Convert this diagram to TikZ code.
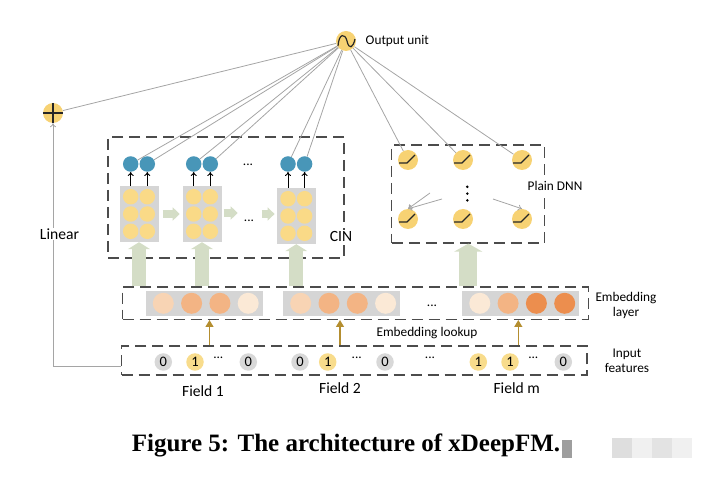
\documentclass[tikz,border=0pt]{standalone}
\usepackage{fontspec}
\setmainfont{Liberation Serif}
\setsansfont{Carlito}
\usetikzlibrary{positioning, arrows.meta}

\definecolor{unityellow}{RGB}{247,210,115}
\definecolor{cellyellow}{RGB}{250,218,135}
\definecolor{cinblue}{RGB}{72,150,184}
\definecolor{matgray}{RGB}{213,213,213}
\definecolor{flowgreen}{RGB}{212,221,198}
\definecolor{linkgray}{RGB}{165,165,165}
\definecolor{lookupbrown}{RGB}{180,142,48}
\definecolor{bitgray}{RGB}{216,216,216}
\definecolor{bityellow}{RGB}{248,220,140}
\definecolor{embA}{RGB}{248,212,180}
\definecolor{embB}{RGB}{243,180,132}
\definecolor{embC}{RGB}{251,233,214}
\definecolor{embD}{RGB}{236,142,78}

\begin{document}
\begin{tikzpicture}[
  x=1pt, y=-1pt,
  font=\sffamily\fontsize{13.3}{15}\selectfont,
  >={To[length=4pt,width=6pt]},
  unit/.style={circle, fill=unityellow, minimum size=20pt, inner sep=0pt},
  cell/.style={circle, fill=cellyellow, minimum size=15.5pt, inner sep=0pt},
  feat/.style={circle, fill=cinblue, minimum size=15.5pt, inner sep=0pt},
  matbox/.style={fill=matgray, minimum width=39pt, minimum height=56pt, inner sep=0pt},
  embbox/.style={fill=matgray, minimum width=117pt, minimum height=25.5pt, inner sep=0pt},
  emb/.style={circle, fill=#1, minimum size=21pt, inner sep=0pt},
  bit/.style={circle, fill=#1, minimum size=17.5pt, inner sep=0pt, font=\sffamily\fontsize{14.5}{16}\selectfont},
  dashbox/.style={draw=black!70, line width=1.3pt, dash pattern=on 11pt off 6pt, inner sep=0pt},
  link/.style={draw=linkgray, line width=0.8pt},
  relu/.style={draw=black!85, line width=1.2pt},
  flow/.style={draw=flowgreen, line width=#1},
  lookup/.style={draw=lookupbrown, line width=1.4pt, -{Triangle[length=7pt,width=8pt]}},
  big/.style={font=\sffamily\fontsize{15.6}{18}\selectfont},
]
\useasboundingbox (0,0) rectangle (705,478);

\node[name=out, unit] at (346,41) {};
\draw[relu] (338,46) .. controls (339,33) and (345,33) .. (347,41)
  .. controls (349,50) and (353,48) .. (355,39);
\node[name=outlbl, right=6pt of out] {Output unit};

\node[name=plus, unit] at (53,113) {};
\draw[relu] (plus.north) -- (plus.south);
\draw[relu] (plus.west) -- (plus.east);
\draw[link] (out) -- (plus);

\node[name=cin, dashbox, minimum width=236pt, minimum height=121pt] at (226,197.5) {};
\node[name=cinlbl, big, fill=white, inner sep=1pt] at (341,236) {CIN};
\foreach \i/\x/\y in {1/139/214, 2/202/214, 3/296.3/216} {
  \node[name=m\i, matbox] at (\x,\y) {};
  \foreach \c/\dx in {1/-8.3, 2/8.3} {
    \foreach \r/\dy in {1/-17.3, 2/0, 3/17.3}
      \node[name=m\i-\r-\c, cell] at (\x+\dx,\y+\dy) {};
    \node[name=f\i-\c, feat] at (\x+\dx,164) {};
    \draw[->, line width=0.9pt] (f\i-\c |- m\i.north) -- (f\i-\c.south);
    \draw[link] (out) -- (f\i-\c);
  }
}
\node[name=cdotstop] at (248,165) {...};
\node[name=cdotsmid] at (249,221) {...};
\draw[flow=8pt, -{Triangle[length=7pt,width=13pt]}] (m1.east) ++(4,0) -- ++(17,0);
\draw[flow=8pt, -{Triangle[length=7pt,width=13pt]}] (m2.east) ++(2,-1) -- ++(14,0);
\draw[flow=8pt, -{Triangle[length=7pt,width=13pt]}] (m3.west) ++(-15,-2) -- ++(13,0);

\node[name=dnn, dashbox, minimum width=153pt, minimum height=98pt] at (468.3,194) {};
\node[name=dnnlbl, fill=white, inner sep=1pt] at (555,186) {Plain DNN};
\foreach \i/\x/\y in {1/408/160, 2/463/160, 3/522/160, 4/408/219, 5/463/219, 6/522/219} {
  \node[name=d\i, unit] at (\x,\y) {};
  \draw[relu] (\x-9,\y+3) -- ++(8,0) -- ++(8,-8);
}
\foreach \i in {1,2,3}
  \draw[link] (out) -- (d\i);
\foreach \k in {1,2,3}
  \fill (467.3,180+6.8*\k) circle (1.4pt);
\coordinate (s1) at (430,193);
\coordinate (s2) at (442,199);
\coordinate (s3) at (493,199);
\draw[link, ->] (s1) -- (d4.north);
\draw[link, ->] (s2) -- (d4.north);
\draw[link, ->] (s3) -- (d6.north);

\node[name=emb, dashbox, minimum width=465.6pt, minimum height=32.3pt] at (355.5,303.2) {};
\foreach \g/\x/\ca/\cb/\cc/\cd in {1/204.3/embA/embB/embB/embC, 2/341.7/embA/embB/embB/embC, 3/520.8/embC/embB/embD/embD} {
  \node[name=eg\g, embbox] at (\x,303.3) {};
  \foreach \k/\col in {1/\ca, 2/\cb, 3/\cc, 4/\cd}
    \node[name=e\g-\k, emb=\col] at (\x-41+28.3*\k-28.3,303.3) {};
}
\node[name=embdots] at (432,306) {...};
\node[name=emblbl, align=center] at (626,305.5) {Embedding\\layer};
\foreach \i in {1,2,3}
  \draw[flow=14pt, -{Triangle[length=7pt,width=22pt]}] (m\i |- emb.north) -- (m\i.south);
\draw[flow=18pt, -{Triangle[length=8pt,width=28pt]}] (dnn.south |- emb.north) -- (dnn.south);

\node[name=inp, dashbox, minimum width=465.3pt, minimum height=29pt] at (354.3,360.5) {};
\foreach \n/\x/\v/\col in {a1/163.3/0/bitgray, a2/195/1/bityellow, a3/248.3/0/bitgray,
  b1/300/0/bitgray, b2/327.7/1/bityellow, b3/385/0/bitgray,
  c1/478.3/1/bityellow, c2/510/1/bityellow, c3/563.3/0/bitgray}
  \node[name=\n, bit=\col] at (\x,362) {\v};
\foreach \n/\x in {adots/218.3, bdots/356.7, mdots/430, cdots/533.3}
  \node[name=\n] at (\x,358) {...};
\node[name=inplbl, align=center] at (627,361) {Input\\features};
\node[name=lookuplbl] at (427,333) {Embedding lookup};
\foreach \g/\x in {1/209.5, 2/340, 3/518.3} {
  \coordinate (lk\g) at (\x,0);
  \draw[lookup] (inp.north -| lk\g) -- (emb.south -| lk\g);
}
\node[name=field1, big] at (203,391) {Field 1};
\node[name=field2, big] at (340,388) {Field 2};
\node[name=fieldm, big] at (516.7,388) {Field m};

\draw[link, ->] ([yshift=-6pt]inp.west) -| (plus.south);
\node[name=linear, big, fill=white, inner sep=1pt] at (59.5,234) {Linear};

\node[name=caption, inner sep=0pt, font=\rmfamily\bfseries\fontsize{25}{30}\selectfont] at (346,445) {Figure 5: The architecture of xDeepFM.};
\fill[black!38] (562,440) rectangle (572,458);
\fill[black!13] (612,438) rectangle (632,458);
\fill[black!6] (632,438) rectangle (652,458);
\fill[black!11] (652,438) rectangle (672,458);
\fill[black!6] (672,438) rectangle (692,458);
\end{tikzpicture}
\end{document}
